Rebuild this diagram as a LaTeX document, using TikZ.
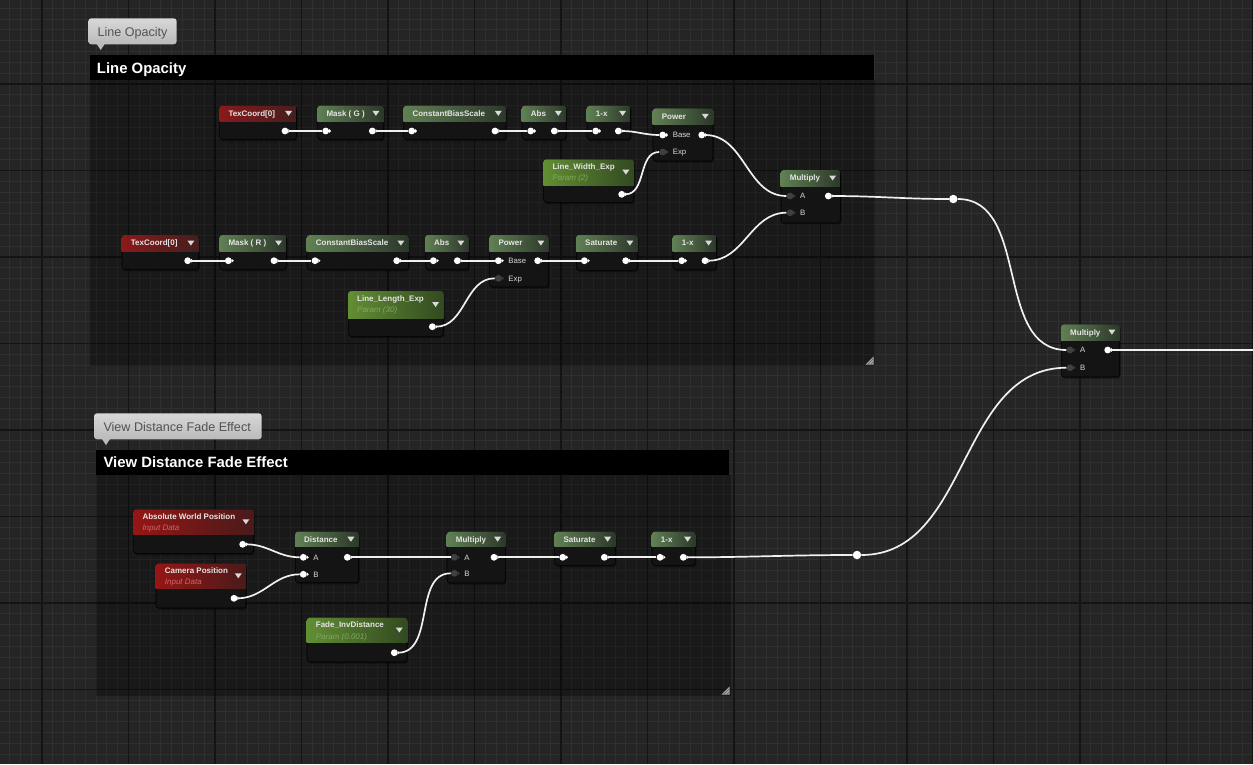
\documentclass[tikz,border=0pt]{standalone}
\usepackage{fontspec}
\setmainfont{Liberation Sans}
\usetikzlibrary{calc}

\definecolor{gridbg}{RGB}{37,37,37}
\definecolor{gridminor}{RGB}{48,48,48}
\definecolor{gridmajor}{RGB}{20,20,20}
\definecolor{nodebody}{RGB}{20,20,20}
\definecolor{mathL}{RGB}{96,128,84}
\definecolor{mathR}{RGB}{44,56,42}
\definecolor{parmL}{RGB}{98,142,52}
\definecolor{parmR}{RGB}{50,74,32}
\definecolor{texL}{RGB}{138,26,26}
\definecolor{texR}{RGB}{68,30,30}
\definecolor{inL}{RGB}{150,22,22}
\definecolor{inR}{RGB}{74,26,26}
\definecolor{parmtxt}{RGB}{128,168,96}
\definecolor{inputtxt}{RGB}{206,104,104}
\definecolor{pingray}{RGB}{64,64,64}
\definecolor{bubbleT}{RGB}{216,216,216}
\definecolor{bubbleB}{RGB}{186,186,186}

% material node: name, top-left, width, header height, height, header style, title, subtitle
\newcommand\matnode[8]{%
  \fill[black,opacity=.4,rounded corners=3] ($(#2)+(1.5,2)$) rectangle ++(#3,#5);
  \node[nodebox,minimum width=#3,minimum height=#5,anchor=north west] (#1) at (#2) {};
  \begin{scope}
    \clip[rounded corners=3] (#1.north west) rectangle (#1.south east);
    \shade[#6] (#1.north west) rectangle ($(#1.north east)+(0,#4)$);
  \end{scope}
  \fill[white!85!black] ($(#1.north east)+(-11.5,{#4/2-2.5})$) -- ++(7,0) -- ++(-3.5,5) -- cycle;
  \if\relax\detokenize{#8}\relax
    \node[ntitle] (#1-t) at ($(#1.north west)+(9,{#4/2+2.9})$) {#7};
  \else
    \node[ntitle] (#1-t) at ($(#1.north west)+(9,10.2)$) {#7};
    \node[nsub] (#1-s) at ($(#1.north west)+(9,21.4)$) {#8};
  \fi}
% pins
\newcommand\wpin[3][]{%
  \node[wpin,#1] (#2) at (#3) {};
  \fill[white] ($(#2.center)+(3.4,-1.9)$) -- ++(2.1,1.9) -- ++(-2.1,1.9) -- cycle;}
\newcommand\gpin[3][]{%
  \node[gpin,#1] (#2) at (#3) {};
  \fill[pingray] ($(#2.center)+(3.4,-1.9)$) -- ++(2.1,1.9) -- ++(-2.1,1.9) -- cycle;}

\begin{document}
\begin{tikzpicture}[x=1pt,y=-1pt,
  minor/.style={draw=gridminor,line width=1},
  major/.style={draw=gridmajor,line width=1.4},
  nodebox/.style={draw=black,fill=nodebody,rounded corners=3,inner sep=0,line width=.6},
  mathhdr/.style={left color=mathL,right color=mathR},
  parmhdr/.style={left color=parmL,right color=parmR},
  texhdr/.style={left color=texL,right color=texR},
  inhdr/.style={left color=inL,right color=inR},
  ntitle/.style={font=\fontsize{8}{9.6}\selectfont\bfseries,text=white!90!black,inner sep=0,anchor=base west},
  nsub/.style={font=\fontsize{8}{9.6}\selectfont\itshape,text=parmtxt,inner sep=0,anchor=base west},
  pinlbl/.style={font=\fontsize{7.8}{9}\selectfont,text=white!85!black,inner sep=0,text height=5.6,text depth=0,label distance=6.3},
  wpin/.style={circle,fill=white,inner sep=0,minimum size=6.8},
  gpin/.style={circle,fill=pingray,inner sep=0,minimum size=6.8},
  reroute/.style={circle,fill=white,inner sep=0,minimum size=8.5},
  wire/.style={draw=white!94!black,line width=1.7},
  bubble/.style={top color=bubbleT,bottom color=bubbleB,rounded corners=3},
  ctitle/.style={font=\fontsize{14.9}{17}\selectfont\bfseries,text=white,inner sep=0,anchor=base west},
  ctag/.style={font=\fontsize{12.6}{15}\selectfont,text=black!68,inner sep=0,anchor=base west},
  handle/.style={fill=gray!65}]
  \useasboundingbox (0,0) rectangle (1253,764);
  % grid
  \fill[gridbg] (0,0) rectangle (1253,764);
  \foreach \i in {-4,...,112} \draw[minor] ({42+\i*10.8125},0) -- ++(0,764);
  \foreach \j in {0,...,71} \draw[minor] (0,{-2.5+\j*10.8125}) -- ++(1253,0);
  \foreach \i in {0,...,14} \draw[major] ({42+\i*86.5},0) -- ++(0,764);
  \foreach \j in {0,...,9} \draw[major] (0,{-2.5+\j*86.5}) -- ++(1253,0);

  % comment: Line Opacity
  \fill[black,opacity=.3] (89.5,80) rectangle (875,366);
  \fill[black] (89.5,55) rectangle (874,80);
  \node[ctitle] (opTitle) at (96.7,73.6) {Line Opacity};
  \shade[bubble] (88.3,18.3) rectangle (176.7,44.3);
  \fill[bubbleB] (96.7,44) -- (100.7,50) -- (104.7,44) -- cycle;
  \node[ctag] (opTag) at (97.3,36.2) {Line Opacity};
  \fill[handle] (873.5,356.5) -- (873.5,364.5) -- (865.5,364.5) -- cycle;
  \draw[black!60,line width=.7] (870.5,364.5) -- (873.5,361.5) (867.5,364.5) -- (873.5,358.5);

  % comment: View Distance Fade Effect
  \fill[black,opacity=.3] (96,475) rectangle (731,696);
  \fill[black] (96,450) rectangle (729,475);
  \node[ctitle] (vdTitle) at (103.3,467.6) {View Distance Fade Effect};
  \shade[bubble] (94,413.3) rectangle (261.7,439.3);
  \fill[bubbleB] (102,439) -- (106,445) -- (110,439) -- cycle;
  \node[ctag] (vdTag) at (103.3,431.2) {View Distance Fade Effect};
  \fill[handle] (729.5,686.5) -- (729.5,694.5) -- (721.5,694.5) -- cycle;
  \draw[black!60,line width=.7] (726.5,694.5) -- (729.5,691.5) (723.5,694.5) -- (729.5,688.5);

  % first row
  \matnode{tcA}{219.3,105.7}{76.7}{15.3}{33.6}{texhdr}{TexCoord[0]}{}
  \matnode{mskG}{317.3,105.7}{66}{15.3}{33.6}{mathhdr}{Mask ( G )}{}
  \matnode{cbsA}{403.3,105.7}{102.4}{15.3}{33.6}{mathhdr}{ConstantBiasScale}{}
  \matnode{absA}{521.7,105.7}{44}{15.3}{33.6}{mathhdr}{Abs}{}
  \matnode{omxA}{586.7,105.7}{43.3}{15.3}{33.6}{mathhdr}{1-x}{}
  \matnode{powA}{652.7,108.3}{60}{16}{52.4}{mathhdr}{Power}{}
  \matnode{lwExp}{543.3,159.3}{90}{25.7}{43}{parmhdr}{Line\_Width\_Exp}{Param (2)}
  \matnode{mulA}{780.7,170}{59.3}{16}{52.7}{mathhdr}{Multiply}{}
  % second row
  \matnode{tcB}{121.7,235}{76.6}{16}{34.3}{texhdr}{TexCoord[0]}{}
  \matnode{mskR}{219.3,235}{66.7}{16}{34.3}{mathhdr}{Mask ( R )}{}
  \matnode{cbsB}{306.7,235}{101.6}{16}{34.3}{mathhdr}{ConstantBiasScale}{}
  \matnode{absB}{425,235}{43.3}{16}{34.3}{mathhdr}{Abs}{}
  \matnode{powB}{489.3,235}{59}{16}{51.7}{mathhdr}{Power}{}
  \matnode{satB}{576,235}{61.3}{16}{35}{mathhdr}{Saturate}{}
  \matnode{omxB}{672.7,235}{43.3}{16}{34.3}{mathhdr}{1-x}{}
  \matnode{llExp}{348,291}{95}{27}{45}{parmhdr}{Line\_Length\_Exp}{Param (30)}
  % final multiply
  \matnode{mulC}{1061,324.3}{58.3}{15.7}{52.4}{mathhdr}{Multiply}{}
  % fade row
  \matnode{awPos}{133.3,509.3}{120}{25}{44}{inhdr}{Absolute World Position}{\color{inputtxt}Input Data}
  \matnode{camPos}{155.7,563.3}{90}{25}{44.4}{inhdr}{Camera Position}{\color{inputtxt}Input Data}
  \matnode{dist}{295,531.7}{63.3}{15}{50.6}{mathhdr}{Distance}{}
  \matnode{mulB}{446.7,531.7}{58.3}{15}{51}{mathhdr}{Multiply}{}
  \matnode{satC}{554.3,531.7}{60.7}{15}{33.3}{mathhdr}{Saturate}{}
  \matnode{omxC}{651.7,531.7}{43.3}{15}{33.3}{mathhdr}{1-x}{}
  \matnode{fade}{306.7,617.7}{100}{24.6}{44}{parmhdr}{Fade\_InvDistance}{Param (0.001)}

  % pins, first row
  \wpin{tcAo}{285,131}
  \wpin{mskGi}{325.7,131} \wpin{mskGo}{372.3,131}
  \wpin{cbsAi}{411.7,131} \wpin{cbsAo}{495,131}
  \wpin{absAi}{530.7,131} \wpin{absAo}{554.3,131}
  \wpin{omxAi}{595.7,131} \wpin{omxAo}{618.3,131}
  \wpin[label={[pinlbl]0:Base}]{powAb}{662.7,135}
  \gpin[label={[pinlbl]0:Exp}]{powAe}{662.7,152}
  \wpin{powAo}{701.7,135}
  \wpin{lwExpo}{621.7,194.3}
  \gpin[label={[pinlbl]0:A}]{mulAa}{790,196}
  \gpin[label={[pinlbl]0:B}]{mulAb}{790,212.7}
  \wpin{mulAo}{828.3,196}
  \node[reroute] (rrA) at (953.3,199) {};
  % pins, second row
  \wpin{tcBo}{187.7,260.7}
  \wpin{mskRi}{228.3,260.7} \wpin{mskRo}{274,260.7}
  \wpin{cbsBi}{315,260.7} \wpin{cbsBo}{396.7,260.7}
  \wpin{absBi}{433.3,260.7} \wpin{absBo}{457.3,260.7}
  \wpin[label={[pinlbl]0:Base}]{powBb}{498.3,260.7}
  \gpin[label={[pinlbl]0:Exp}]{powBe}{498.3,278.3}
  \wpin{powBo}{537.7,260.7}
  \wpin{satBi}{584.3,260.7} \wpin{satBo}{625.7,260.7}
  \wpin{omxBi}{681.7,260.7} \wpin{omxBo}{705,260.7}
  \wpin{llExpo}{432.3,326.7}
  % pins, final multiply
  \gpin[label={[pinlbl]0:A}]{mulCa}{1070,350}
  \gpin[label={[pinlbl]0:B}]{mulCb}{1070,367.7}
  \wpin{mulCo}{1107.7,350}
  \coordinate (outEnd) at (1253,350);
  % pins, fade row
  \wpin{awPoso}{242.7,544.3}
  \wpin{camPoso}{234,598.3}
  \wpin[label={[pinlbl]0:A}]{distA}{303.3,557.3}
  \wpin[label={[pinlbl]0:B}]{distB}{303.3,574.3}
  \wpin{disto}{347.3,557.3}
  \gpin[label={[pinlbl]0:A}]{mulBa}{454.3,557.3}
  \gpin[label={[pinlbl]0:B}]{mulBb}{454.3,573.3}
  \wpin{mulBo}{494,557.3}
  \wpin{satCi}{562.7,557.3} \wpin{satCo}{604.3,557.3}
  \wpin{omxCi}{660,557.3} \wpin{omxCo}{683.3,557.3}
  \wpin{fadeo}{394.3,652.7}
  \node[reroute] (rrB) at (857,555) {};

  % wires
  \draw[wire] (tcAo) -- (mskGi);
  \draw[wire] (mskGo) -- (cbsAi);
  \draw[wire] (cbsAo) -- (absAi);
  \draw[wire] (absAo) -- (omxAi);
  \draw[wire] (omxAo) to[out=0,in=180] (powAb);
  \draw[wire] (lwExpo) to[out=0,in=180] (powAe);
  \draw[wire] (powAo) to[out=0,in=180] (mulAa);
  \draw[wire] (omxBo) to[out=0,in=180] (mulAb);
  \draw[wire] (mulAo) to[out=0,in=180] (rrA);
  \draw[wire] (rrA) to[out=0,in=180] (mulCa);
  \draw[wire] (tcBo) -- (mskRi);
  \draw[wire] (mskRo) -- (cbsBi);
  \draw[wire] (cbsBo) -- (absBi);
  \draw[wire] (absBo) -- (powBb);
  \draw[wire] (llExpo) to[out=0,in=180] (powBe);
  \draw[wire] (powBo) -- (satBi);
  \draw[wire] (satBo) -- (omxBi);
  \draw[wire] (awPoso) to[out=0,in=180] (distA);
  \draw[wire] (camPoso) to[out=0,in=180] (distB);
  \draw[wire] (disto) -- (mulBa);
  \draw[wire] (fadeo) to[out=0,in=180] (mulBb);
  \draw[wire] (mulBo) -- (satCi);
  \draw[wire] (satCo) -- (omxCi);
  \draw[wire] (omxCo) to[out=0,in=180] (rrB);
  \draw[wire] (rrB) to[out=0,in=180] (mulCb);
  \draw[wire] (mulCo) -- (outEnd);
\end{tikzpicture}
\end{document}
